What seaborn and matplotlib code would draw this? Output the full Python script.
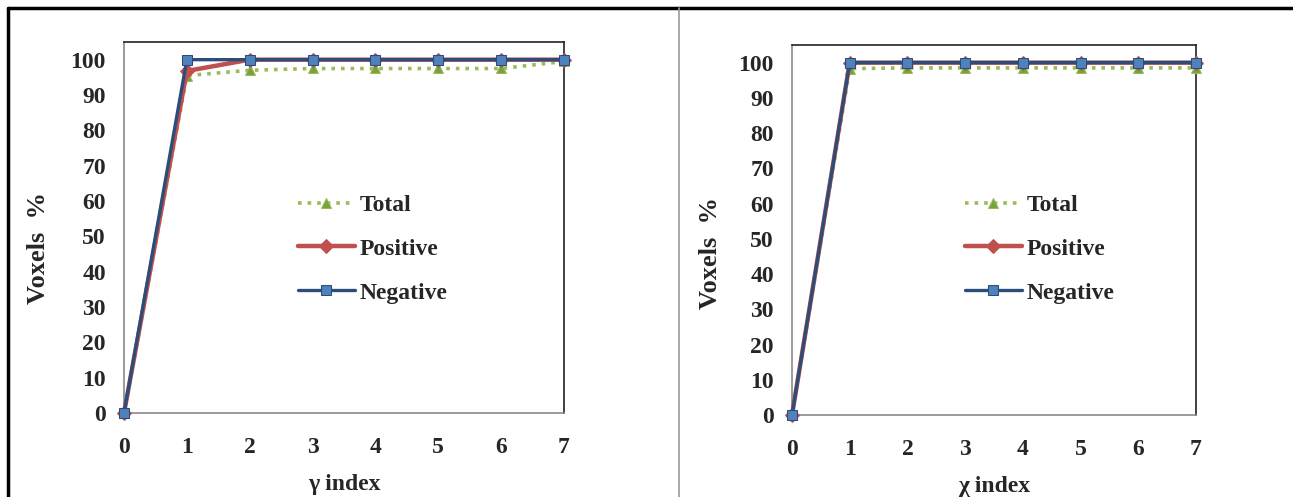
import matplotlib
matplotlib.use("Agg")
import matplotlib.pyplot as plt
from matplotlib.lines import Line2D
import seaborn as sns

# ---- data ----
x_index = [0, 1, 2, 3, 4, 5, 6, 7]
gamma_total = [0, 95.5, 97, 97.5, 97.5, 97.5, 97.5, 99.5]
gamma_positive = [0, 96.8, 100, 100, 100, 100, 100, 100]
gamma_negative = [0, 100, 100, 100, 100, 100, 100, 100]
chi_total = [0, 98.3, 98.5, 98.5, 98.5, 98.5, 98.5, 98.5]
chi_positive = [0, 100, 100, 100, 100, 100, 100, 100]
chi_negative = [0, 100, 100, 100, 100, 100, 100, 100]
series_names = ["Total", "Positive", "Negative"]
y_ticks = list(range(0, 101, 10))
x_labels = ["\u03b3 index", "\u03c7 index"]
y_label = "Voxels  %"

sns.set_theme(style="white")
plt.rcParams["font.family"] = ["Liberation Serif", "DejaVu Serif"]
plt.rcParams["font.weight"] = "bold"

fig = plt.figure(figsize=(12.93, 4.97), dpi=100)
fig.patch.set_facecolor("white")

ax_l = fig.add_axes([124/1293, (497-413)/497, 440/1293, 371/497])
ax_r = fig.add_axes([792/1293, (497-415)/497, 404/1293, 370/497])

styles = {
    "Total": dict(color="#9BBB59", linestyle=":", linewidth=2.6, marker="^",
                  markersize=7, markerfacecolor="#77A33F", markeredgecolor="#9BBB59"),
    "Positive": dict(color="#C0504D", linestyle="-", linewidth=3.2, marker="D",
                     markersize=7, markerfacecolor="#C0504D", markeredgecolor="#C0504D"),
    "Negative": dict(color="#2C4D7A", linestyle="-", linewidth=2.4, marker="s",
                     markersize=6.5, markerfacecolor="#4F81BD", markeredgecolor="#2C4D7A"),
}

panels = [
    (ax_l, [gamma_total, gamma_positive, gamma_negative], x_labels[0], 298/1293,
     (-0.168, 0.445)),
    (ax_r, [chi_total, chi_positive, chi_negative], x_labels[1], 965/1293,
     (-0.173, 0.438)),
]

for ax, series, xl, leg_x, ylab_pos in panels:
    for name, vals in zip(series_names, series):
        sns.lineplot(x=x_index, y=vals, ax=ax, label=name, clip_on=False,
                     zorder=3, **styles[name])
    ax.set_xlim(0, 7)
    ax.set_ylim(0, 105)
    ax.set_xticks(x_index)
    ax.set_yticks(y_ticks)
    ax.tick_params(axis="both", length=0, labelsize=17)
    ax.tick_params(axis="y", pad=13)
    ax.tick_params(axis="x", pad=17)
    for lab in ax.get_xticklabels() + ax.get_yticklabels():
        lab.set_fontweight("bold")
    ax.set_xlabel(xl, fontsize=17, fontweight="bold", labelpad=12)
    ax.set_ylabel(y_label, fontsize=19, fontweight="bold")
    ax.yaxis.set_label_coords(*ylab_pos)
    for s in ["top", "right"]:
        ax.spines[s].set_color("#222222")
        ax.spines[s].set_linewidth(1.2)
    for s in ["left", "bottom"]:
        ax.spines[s].set_color("#8A8A8A")
        ax.spines[s].set_linewidth(1.2)
    ax.grid(False)
    ax.get_legend().remove()
    h, l = ax.get_legend_handles_labels()
    fig.legend(h, l, loc="center left", bbox_to_anchor=(leg_x, (497-249)/497),
               bbox_transform=fig.transFigure, frameon=False,
               handlelength=2.4, handletextpad=0.2, labelspacing=0.95,
               borderpad=0, borderaxespad=0, prop={"weight": "bold", "size": 17})

# outer border and divider
fig.add_artist(Line2D([8/1293, 1], [(497-8)/497]*2, color="black", linewidth=2.5,
                      transform=fig.transFigure))
fig.add_artist(Line2D([8/1293]*2, [0, (497-8)/497], color="black", linewidth=2.5,
                      transform=fig.transFigure))
fig.add_artist(Line2D([679/1293]*2, [0, (497-8)/497], color="#9A9A9A", linewidth=1.2,
                      transform=fig.transFigure))

fig.savefig("out.png", dpi=100, facecolor="white")
